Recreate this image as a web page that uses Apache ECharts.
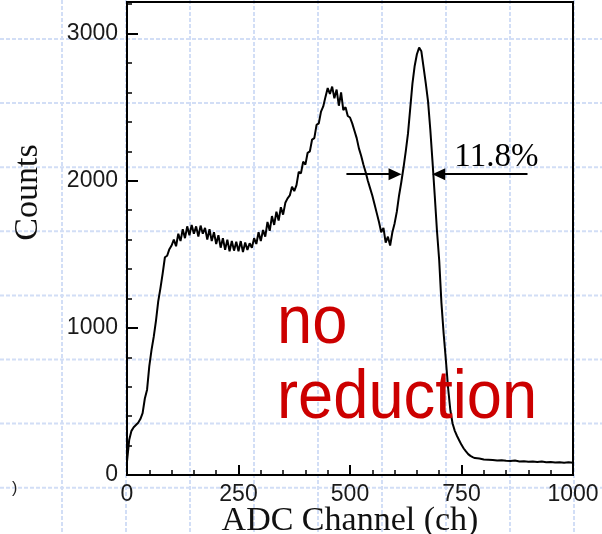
<!DOCTYPE html>
<html><head><meta charset="utf-8">
<script src="https://cdn.jsdelivr.net/npm/echarts@6/dist/echarts.min.js"></script>
<style>html,body{margin:0;padding:0;background:#fff}#c{width:602px;height:534px}</style>
</head><body><div id="c"></div>
<script>
// ---- data ----
const channels = [
  0,5,10,15,20,25,30,35,40,45,50,55,60,65,70,75,80,85,90,95,
  100,105,110,115,120,125,130,135,140,145,150,155,160,165,170,175,180,185,190,195,
  200,205,210,215,220,225,230,235,240,245,250,255,260,265,270,275,280,285,290,295,
  300,305,310,315,320,325,330,335,340,345,350,355,360,365,370,375,380,385,390,395,
  400,405,410,415,420,425,430,435,440,445,450,455,460,465,470,475,480,485,490,495,
  500,505,510,515,520,525,530,535,540,545,550,555,560,565,570,575,580,585,590,595,
  600,605,610,615,620,625,630,635,640,645,650,655,660,665,670,675,680,685,690,695,
  700,705,710,715,720,725,730,735,740,745,750,755,760,765,770,775,780,
  790,800,810,820,830,840,850,860,870,880,890,900,910,920,930,940,950,960,970,980,990,1000
];
const counts = [
  90,240,300,325,340,355,380,420,520,580,740,850,940,1050,1180,1270,1370,1480,1490,1535,
  1560,1600,1555,1640,1590,1670,1610,1690,1630,1700,1640,1690,1620,1695,1640,1680,1600,1670,1590,1650,
  1570,1630,1545,1610,1530,1600,1520,1590,1525,1585,1520,1590,1515,1580,1530,1575,1545,1610,1570,1650,
  1590,1665,1620,1720,1660,1760,1700,1790,1730,1820,1770,1850,1880,1900,1960,1930,1970,2060,2050,2130,
  2110,2190,2200,2280,2290,2380,2390,2470,2505,2570,2630,2590,2640,2560,2620,2510,2600,2480,2500,2440,
  2430,2390,2340,2290,2220,2170,2110,2060,2000,1950,1900,1840,1780,1720,1650,1680,1580,1620,1560,1650,
  1710,1790,1900,1990,2090,2200,2320,2490,2660,2780,2860,2905,2880,2770,2660,2540,2350,2130,1900,1660,
  1460,1170,960,780,590,440,350,300,265,235,205,180,160,142,130,122,115,
  112,106,104,102,98,101,97,95,98,92,94,90,91,88,92,86,89,85,87,84,86,84
];
const xTitle = 'ADC Channel (ch)';
const yTitle = 'Counts';
const fwhmText = '11.8%';
const fwhmLevel = 2045;
const fwhmLeftArrow = [492, 601];
const fwhmRightArrow = [898, 699];
const fwhmTextAt = [734, 2045];
const noteLines = ['no', 'reduction'];

// ---- chart ----
const chart = echarts.init(document.getElementById('c'), null, {renderer: 'canvas'});
const bg = [];
for (let x = 62; x < 602; x += 64) {
  bg.push({type: 'line', z: -10, silent: true,
    shape: {x1: x, y1: 0, x2: x, y2: 534},
    style: {stroke: '#d2def6', lineWidth: 2, lineDash: [4, 2]}});
}
for (let y = 39; y < 534; y += 64.1) {
  bg.push({type: 'line', z: -10, silent: true,
    shape: {x1: 0, y1: y, x2: 602, y2: y},
    style: {stroke: '#d2def6', lineWidth: 2, lineDash: [4, 2]}});
}
const noteFont = '68px "Liberation Sans", Arial, sans-serif';
bg.push({type: 'text', x: 277, y: 324, scaleX: 0.93, z: 10,
  style: {text: noteLines[0], font: noteFont, fill: '#cc0000', align: 'left', verticalAlign: 'middle'}});
bg.push({type: 'text', x: 277, y: 399, scaleX: 0.93, z: 10,
  style: {text: noteLines[1], font: noteFont, fill: '#cc0000', align: 'left', verticalAlign: 'middle'}});
bg.push({type: 'text', left: 12, top: 481, z: 10,
  style: {text: ')', font: '16px "Liberation Sans", sans-serif', fill: '#222'}});

const labelFont = {fontFamily: '"Liberation Sans", Arial, sans-serif', fontSize: 23, color: '#1a1a1a'};
const titleFont = {fontFamily: '"Liberation Serif", "Times New Roman", serif', fontSize: 34, color: '#111'};
const plain = v => String(v);

chart.setOption({
  animation: false,
  backgroundColor: '#fff',
  graphic: bg,
  grid: {left: 127, right: 29, top: 2, bottom: 59, show: true, borderColor: '#000', borderWidth: 2,
    backgroundColor: 'transparent', containLabel: false, outerBoundsMode: 'none'},
  xAxis: {
    type: 'value', min: 0, max: 1000, interval: 250,
    name: xTitle, nameLocation: 'middle', nameGap: 29, nameMoveOverlap: false, nameTextStyle: titleFont,
    axisLine: {show: true, lineStyle: {color: '#000', width: 2}},
    axisTick: {show: true, inside: true, length: 10, lineStyle: {color: '#000', width: 2}},
    minorTick: {show: true, splitNumber: 5, length: 5, lineStyle: {color: '#000', width: 1.5}},
    axisLabel: Object.assign({margin: 8, formatter: plain}, labelFont),
    splitLine: {show: false}
  },
  yAxis: [{
    type: 'value', min: 0, max: 3215, interval: 1000, position: 'left',
    name: yTitle, nameLocation: 'middle', nameGap: 82, nameMoveOverlap: false,
    nameTextStyle: Object.assign({padding: [0, 0, 0, 92]}, titleFont),
    axisLine: {show: true, lineStyle: {color: '#000', width: 2}},
    axisTick: {show: true, inside: true, length: 11, lineStyle: {color: '#000', width: 2}},
    axisLabel: Object.assign({margin: 9, showMaxLabel: false, formatter: plain}, labelFont),
    splitLine: {show: false}
  }, {
    type: 'value', min: 0, max: 3215, interval: 200, position: 'left', offset: 0,
    axisLine: {show: false},
    axisTick: {show: true, inside: true, length: 5, lineStyle: {color: '#000', width: 1.5}},
    axisLabel: {show: false},
    splitLine: {show: false}
  }],
  series: [{
    type: 'line',
    xAxisIndex: 0, yAxisIndex: 0,
    data: channels.map((c, i) => [c, counts[i]]),
    showSymbol: false, symbol: 'none',
    lineStyle: {color: '#000', width: 2},
    z: 5,
    markLine: {
      silent: true, symbol: ['none', 'triangle'], symbolSize: [12, 13],
      lineStyle: {color: '#000', width: 2, type: 'solid'},
      label: {show: false},
      data: [
        [{coord: [fwhmLeftArrow[0], fwhmLevel]}, {coord: [fwhmLeftArrow[1], fwhmLevel]}],
        [{coord: [fwhmRightArrow[0], fwhmLevel]}, {coord: [fwhmRightArrow[1], fwhmLevel]}]
      ]
    },
    markPoint: {
      silent: true, symbol: 'circle', symbolSize: 0,
      label: {show: true, position: 'inside', align: 'left', verticalAlign: 'bottom',
        formatter: fwhmText, fontFamily: '"Liberation Serif", "Times New Roman", serif', fontSize: 33, color: '#000'},
      data: [{coord: fwhmTextAt}]
    }
  }]
});
</script></body></html>
